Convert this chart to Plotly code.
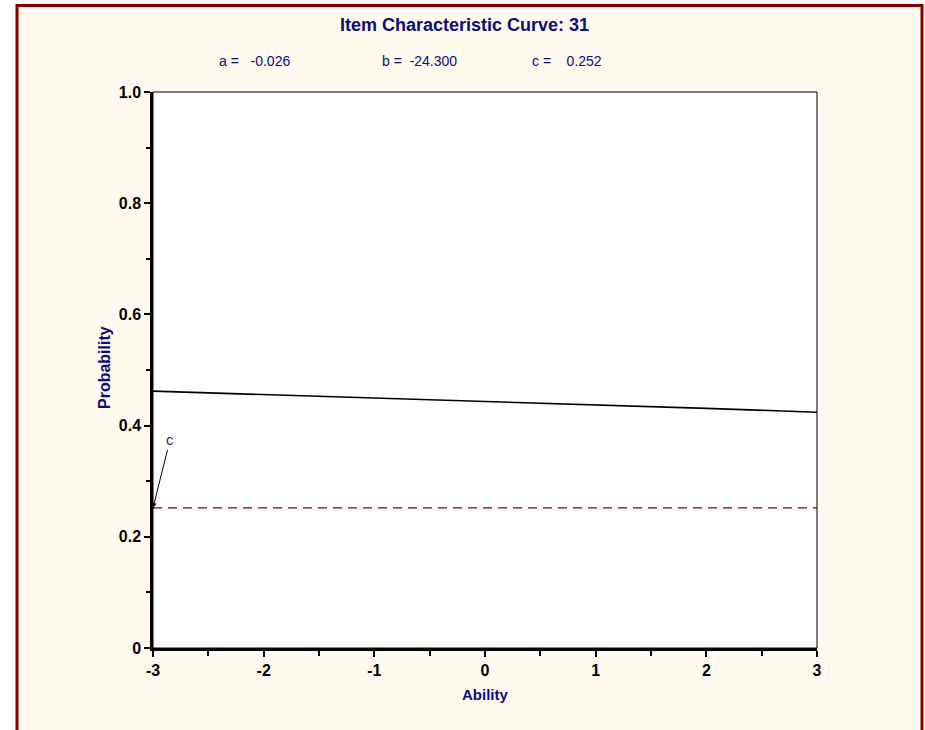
import plotly.graph_objects as go

# Data
theta = [-3, -2, -1, 0, 1, 2, 3]
prob = [0.462, 0.456, 0.450, 0.444, 0.437, 0.431, 0.424]
c_value = 0.252
c_theta = [-3, 3]
c_line = [c_value, c_value]

x_tickvals = [-3, -2, -1, 0, 1, 2, 3]
x_ticktext = ["-3", "-2", "-1", "0", "1", "2", "3"]
y_tickvals = [0, 0.2, 0.4, 0.6, 0.8, 1.0]
y_ticktext = ["0", "0.2", "0.4", "0.6", "0.8", "1.0"]

title_text = "Item Characteristic Curve: 31"
param_texts = ["a =   -0.026", "b =  -24.300", "c =    0.252"]

NAVY = "#0c0c7c"
DARKRED = "#800000"
CREAM = "#fff9ee"
SANS = "Liberation Sans, Arial, sans-serif"

W, H = 925, 730
L, R, T, B = 153, 817, 92, 648
pw, ph = R - L, B - T

def px_x(x):
    return (x - L) / pw

def px_y(y):
    return (B - y) / ph

fig = go.Figure()

fig.add_trace(go.Scatter(x=c_theta, y=c_line, mode="lines",
                         line=dict(color=DARKRED, width=1.3, dash="9px,6px"),
                         showlegend=False, hoverinfo="skip"))
fig.add_trace(go.Scatter(x=theta, y=prob, mode="lines",
                         line=dict(color="black", width=1.6),
                         showlegend=False, hoverinfo="skip"))

shapes = [
    dict(type="rect", xref="paper", yref="paper", layer="below",
         x0=px_x(17), x1=px_x(922), y0=px_y(745), y1=px_y(5.5),
         fillcolor=CREAM, line=dict(color=DARKRED, width=3)),
    dict(type="rect", xref="paper", yref="paper", layer="below",
         x0=0, x1=1, y0=0, y1=1, fillcolor="white", line=dict(width=0)),
    dict(type="rect", xref="paper", yref="paper", layer="above",
         x0=0, x1=1, y0=0, y1=1, line=dict(color="black", width=1)),
]

annotations = [
    dict(text=title_text, xref="paper", yref="paper",
         x=px_x(464), y=px_y(25), showarrow=False,
         font=dict(family=SANS, size=18, color=NAVY, weight="bold"),
         xanchor="center", yanchor="middle"),
    dict(text=param_texts[0], xref="paper", yref="paper",
         x=px_x(217), y=px_y(61), showarrow=False,
         font=dict(family=SANS, size=14, color=NAVY),
         xanchor="left", yanchor="middle"),
    dict(text=param_texts[1], xref="paper", yref="paper",
         x=px_x(380), y=px_y(61), showarrow=False,
         font=dict(family=SANS, size=14, color=NAVY),
         xanchor="left", yanchor="middle"),
    dict(text=param_texts[2], xref="paper", yref="paper",
         x=px_x(530), y=px_y(61), showarrow=False,
         font=dict(family=SANS, size=14, color=NAVY),
         xanchor="left", yanchor="middle"),
    dict(text="Ability", xref="paper", yref="paper",
         x=px_x(485), y=px_y(694), showarrow=False,
         font=dict(family=SANS, size=15, color=NAVY, weight="bold"),
         xanchor="center", yanchor="middle"),
    dict(text="Probability", xref="paper", yref="paper",
         x=px_x(104), y=px_y(368), showarrow=False, textangle=-90,
         font=dict(family=SANS, size=16, color=NAVY, weight="bold"),
         xanchor="center", yanchor="middle"),
    dict(text="c", x=-3, y=c_value, xref="x", yref="y",
         ax=17, ay=-68, showarrow=True, arrowhead=2, arrowsize=1,
         arrowwidth=1, arrowcolor="black", standoff=0,
         font=dict(family=SANS, size=15, color="#333333")),
]

fig.update_layout(
    width=W, height=H,
    margin=dict(l=L, r=W - R, t=T, b=H - B, pad=0),
    paper_bgcolor="white",
    plot_bgcolor="white",
    shapes=shapes,
    annotations=annotations,
    showlegend=False,
    xaxis=dict(range=[-3, 3], tickvals=x_tickvals, ticktext=x_ticktext,
               showgrid=False, zeroline=False, showline=True,
               linecolor="black", linewidth=2.5,
               ticks="outside", ticklen=6, tickwidth=2, tickcolor="black",
               tickfont=dict(family=SANS, size=16, color="black", weight="bold"),
               minor=dict(dtick=0.5, tick0=-3, ticks="outside", ticklen=5,
                          tickwidth=1.5, tickcolor="black", showgrid=False)),
    yaxis=dict(range=[0, 1], tickvals=y_tickvals, ticktext=y_ticktext,
               showgrid=False, zeroline=False, showline=True,
               linecolor="black", linewidth=2.5,
               ticks="outside", ticklen=6, tickwidth=2, tickcolor="black",
               tickfont=dict(family=SANS, size=16, color="black", weight="bold"),
               minor=dict(dtick=0.1, tick0=0, ticks="outside", ticklen=4,
                          tickwidth=1.5, tickcolor="black", showgrid=False)),
)

fig.write_html("out.html", config={"displayModeBar": False},
               post_script="document.body.style.margin='0px';document.body.style.padding='0px';")
